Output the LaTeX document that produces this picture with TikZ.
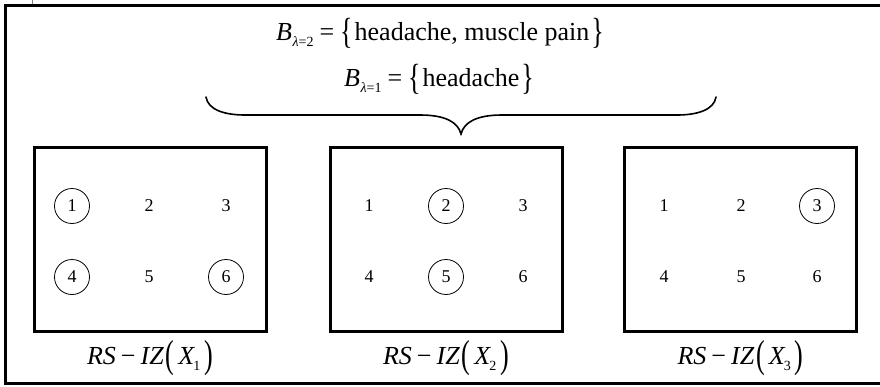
\documentclass[tikz,border=0pt]{standalone}
\usepackage{fontspec}
\usepackage{graphicx}
\setmainfont{Liberation Serif}
\newcommand{\tallL}{\raisebox{-0.09em}{\scalebox{1}[1.4]{\{}}}
\newcommand{\tallR}{\raisebox{-0.09em}{\scalebox{1}[1.4]{\}}}}
\newcommand{\tallPL}{\raisebox{-0.13em}{\scalebox{1}[1.5]{(}}}
\newcommand{\tallPR}{\raisebox{-0.13em}{\scalebox{1}[1.5]{)}}}
\newcommand{\smallsub}[1]{\raisebox{-6pt}{\fontsize{14}{14}\selectfont #1}}
\newcommand{\rslabel}[1]{{\itshape RS}\kern5pt−\kern5pt{\itshape IZ}\kern2pt\tallPL\kern4pt{\itshape X}\kern-1pt\smallsub{#1}\kern4pt\tallPR}
\begin{document}
\begin{tikzpicture}[x=1pt,y=-1pt,
  frameline/.style={line width=3pt},
  setbox/.style={draw, line width=3pt, minimum width=232pt, minimum height=184pt, inner sep=0pt},
  num/.style={font=\fontsize{18}{18}\selectfont, inner sep=0pt, minimum size=35pt, circle},
  sel/.style={num, draw, line width=0.8pt},
  lab/.style={font=\fontsize{26}{26}\selectfont, inner sep=0pt},
  top/.style={font=\fontsize{26}{26}\selectfont, inner sep=0pt},
  bracestyle/.style={line width=1.6pt, line cap=round}
]
\useasboundingbox (0,0) rectangle (880,386);
% outer frame (open on the right)
\draw[gray, line width=0.8pt] (32.5,0) -- (32.5,4);
\draw[frameline] (890,5.5) -- (5.5,5.5) -- (5.5,383.5) -- (890,383.5);

% top texts
\node[top] (b2) at (440,33) {{\itshape B}\kern0.5pt\smallsub{{\itshape λ}=2}\kern6pt=\kern6pt\tallL\kern2pt headache, muscle pain\kern2pt\tallR};
\node[top] (b1) at (439,79) {{\itshape B}\kern0.5pt\smallsub{{\itshape λ}=1}\kern6pt=\kern6pt\tallL\kern2pt headache\kern2pt\tallR};

% brace
\coordinate (brL) at (206,97);
\coordinate (brR) at (716,97);
\coordinate (brT) at (461,134);
\draw[bracestyle] (brL) .. controls (208,110) and (225,115) .. (245,115)
  -- (420,115) .. controls (445,115) and (458,122) .. (brT)
  .. controls (464,122) and (477,115) .. (502,115)
  -- (677,115) .. controls (697,115) and (714,110) .. (brR);

% boxes
\node[setbox] (s1) at (150,239) {};
\node[setbox] (s2) at (446,239) {};
\node[setbox] (s3) at (740.5,239) {};

% box 1
\node[sel] (a1) at (72,206) {1};
\node[num] (a2) at (149,206) {2};
\node[num] (a3) at (226,206) {3};
\node[sel] (a4) at (72,277) {4};
\node[num] (a5) at (149,277) {5};
\node[sel] (a6) at (226,277) {6};
% box 2
\node[num] (c1) at (369,206) {1};
\node[sel] (c2) at (446,206) {2};
\node[num] (c3) at (523,206) {3};
\node[num] (c4) at (369,277) {4};
\node[sel] (c5) at (446,277) {5};
\node[num] (c6) at (523,277) {6};
% box 3
\node[num] (d1) at (664,206) {1};
\node[num] (d2) at (741,206) {2};
\node[sel] (d3) at (817,206) {3};
\node[num] (d4) at (664,277) {4};
\node[num] (d5) at (741,277) {5};
\node[num] (d6) at (817,277) {6};

% labels
\node[lab] (l1) at (150,358) {\rslabel{1}};
\node[lab] (l2) at (446,358) {\rslabel{2}};
\node[lab] (l3) at (740.5,358) {\rslabel{3}};
\end{tikzpicture}
\end{document}
